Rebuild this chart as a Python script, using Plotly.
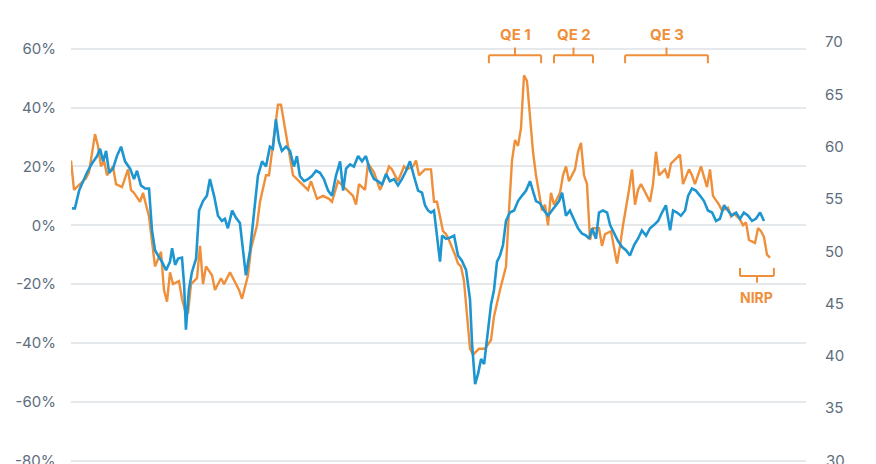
import plotly.graph_objects as go

# months since Jan 1997
orange_t = [0,1,3,5,6,8,9,10,11,12,14,15,17,19,20,21,23,24,26,27,28,30,31,32,33,34,36,37,38,39,40,42,43,44,45,47,48,50,51,53,55,56,57,59,60,62,63,65,66,67,68,69,70,72,73,74,76,77,79,80,82,84,86,87,89,90,92,94,95,96,98,99,101,102,103,105,106,107,109,111,112,114,115,116,118,120,121,122,124,125,126,128,129,130,131,133,134,136,137,138,140,141,143,145,146,147,148,149,150,151,152,153,154,155,157,158,159,160,161,163,164,165,166,168,169,170,171,172,173,174,176,177,178,180,181,182,183,184,186,187,188,189,190,192,193,194,195,196,198,199,200,202,203,204,206,207,208,210,211,212,213,214,216,217,219,220,221,223,224,225,226,228,229,230,231,232,233]
orange_v = [22,12,14,16,18,31,27,20,22,17,20,14,13,19,12,11,8,11,3,-5,-14,-9,-22,-26,-16,-20,-19,-25,-29,-30,-20,-18,-7,-20,-14,-17,-22,-18,-20,-16,-20,-22,-25,-17,-8,0,8,17,17,25,32,41,41,29,22,17,15,14,12,15,9,10,9,8,15,14,12,10,7,14,12,21,18,15,12,17,20,19,15,20,19,20,22,17,19,19,8,8,-2,-3,-5,-10,-13,-14,-19,-42,-44,-42,-42,-42,-39,-31,-22,-14,5,22,29,27,33,51,49,36,25,17,5,7,0,11,7,11,17,20,15,19,25,28,17,14,-5,-1,-1,-7,-3,-2,-7,-13,-7,0,12,19,7,12,14,10,8,14,25,17,19,16,21,23,24,14,19,17,14,20,16,13,19,10,7,5,6,3,4,2,0,1,-5,-6,-1,-2,-4,-10,-11]

blue_t = [0.3,1.3,2.7,4,5.3,7,8.7,9.7,10.7,11.7,12.7,14,15.3,16.7,18,19.7,21,22,23.3,24.7,26,27,28,29,30.3,31.7,33,33.7,34.7,35.7,37,37.7,38.3,39.3,40.3,41.7,42.7,44,45.3,46.3,47.7,49,50.3,51.3,52.3,53.7,55,56.3,57.7,58.3,59.7,61,62.3,63.7,65,66.3,67.3,68.3,69.3,70.3,71.7,73,74.3,75.3,76.3,77.7,79,80.3,81.7,83,84.3,85.7,87,88.3,89.7,90.7,91.7,93,94.3,95.7,97,98.3,99.7,101,102.3,103.7,105,106.3,107.7,109,110.3,111.7,113,114.3,115.7,117,118,119,120,121,122.3,123,123.7,125,126.3,127.7,129,130.3,131.7,133,133.7,134.7,135.7,136.7,137.7,138.7,140,141,142,143,144,145,146.3,147.7,149,150.3,151.7,153,154,155,156.3,157.7,159,160.3,161.7,162.7,163.7,165,166.3,167.7,169,170.3,171.7,172.7,173.7,175,176,177.3,178.7,179.7,181,182.3,183.7,185,186.3,187.7,189,190.3,191.7,193,194.3,195.7,197,198.3,199.7,200.7,202,203.3,204.7,205.7,207,208.3,209.7,211,212.3,213.7,215,216.3,217.7,219,220.3,221.7,223,224.3,225.7,227,228.3,229.7,231]
blue_v = [54.1,54.1,55.8,56.7,57.5,58.4,59.1,59.8,58.6,59.6,57.5,57.9,59.1,60.0,58.6,57.9,56.9,57.7,56.3,56.0,56.0,52.0,50.1,49.6,49.0,48.2,49.0,50.3,48.7,49.3,49.4,46.8,42.5,46.3,48.0,49.3,53.9,54.8,55.3,56.9,55.3,53.4,52.9,53.1,52.2,53.9,53.2,52.7,49.1,47.7,50.1,53.9,57.2,58.6,58.1,60.0,59.8,62.6,60.5,59.6,60.0,59.6,58.1,59.1,57.2,56.7,56.9,57.2,57.7,57.5,56.9,55.8,55.3,57.2,58.6,55.8,57.9,58.3,58.1,59.1,58.6,59.1,57.7,56.9,56.7,56.4,57.4,56.7,56.9,56.3,56.9,57.7,58.6,57.2,55.8,55.6,54.4,53.9,53.7,53.9,51.0,49.0,51.5,51.2,51.3,51.5,49.6,49.1,48.2,45.4,41.1,37.3,38.3,39.7,39.2,41.6,44.9,46.3,49.0,49.6,50.6,52.9,53.7,53.9,54.8,55.3,55.8,56.7,55.8,54.8,54.6,53.9,53.4,53.9,54.4,54.8,55.6,53.4,53.9,53.1,52.2,51.7,51.5,51.2,52.2,51.2,53.7,53.9,53.7,52.5,51.8,51.0,50.4,50.1,49.6,50.6,51.2,52.0,51.5,52.2,52.5,52.9,53.7,54.4,52.0,53.9,53.7,53.4,53.9,55.3,56.0,55.8,55.3,54.8,53.9,53.7,52.9,53.1,54.4,53.9,53.4,53.7,53.1,53.7,53.4,52.9,53.1,53.7,52.9]

left_ticks = [-80,-60,-40,-20,0,20,40,60]
right_ticks = [30,35,40,45,50,55,60,65,70]

brackets = [("QE 1", 139.3, 156.7), ("QE 2", 161, 174), ("QE 3", 184.7, 212.3)]
nirp = ("NIRP", 223, 234.3)

OR = "#EF8F3A"
BL = "#1D95D1"
TXT = "#5d6d7e"

fig = go.Figure()
fig.add_trace(go.Scatter(x=orange_t, y=orange_v, mode="lines", line=dict(color=OR, width=2.4), yaxis="y"))
fig.add_trace(go.Scatter(x=blue_t, y=blue_v, mode="lines", line=dict(color=BL, width=2.6), yaxis="y2"))

shapes = []
for name, a, b in brackets:
    m = (a + b) / 2
    for x0, y0, x1, y1 in [(a, 0.945, a, 0.964), (a, 0.964, b, 0.964), (b, 0.964, b, 0.945), (m, 0.964, m, 0.982)]:
        shapes.append(dict(type="line", xref="x", yref="paper", x0=x0, x1=x1, y0=y0, y1=y1, line=dict(color=OR, width=2)))
    fig.add_annotation(x=m, y=1.012, xref="x", yref="paper", text="<b>%s</b>" % name, showarrow=False,
                       font=dict(color=OR, size=15, family="Inter"), yanchor="middle")
name, a, b = nirp
m = (a + b) / 2
for x0, y0, x1, y1 in [(a, 0.46, a, 0.441), (a, 0.441, b, 0.441), (b, 0.441, b, 0.46), (m, 0.441, m, 0.425)]:
    shapes.append(dict(type="line", xref="x", yref="paper", x0=x0, x1=x1, y0=y0, y1=y1, line=dict(color=OR, width=2)))
fig.add_annotation(x=m, y=0.389, xref="x", yref="paper", text="<b>%s</b>" % name, showarrow=False,
                   font=dict(color=OR, size=14, family="Inter"), yanchor="middle")

# bottom tick labels that Plotly drops at the paper edge
fig.add_annotation(x=0, xref="paper", y=left_ticks[0], yref="y", text="%d%%" % left_ticks[0], showarrow=False,
                   xanchor="right", xshift=-14, yanchor="middle", font=dict(color=TXT, size=15))
fig.add_annotation(x=1, xref="paper", y=right_ticks[0], yref="y2", text="%d" % right_ticks[0], showarrow=False,
                   xanchor="left", xshift=18, yanchor="middle", font=dict(color=TXT, size=15))

fig.update_layout(
    width=876, height=464, margin=dict(l=71, r=70, t=40, b=2),
    paper_bgcolor="white", plot_bgcolor="white", showlegend=False, shapes=shapes,
    font=dict(family="Inter", color=TXT, size=15),
    xaxis=dict(range=[0, 245], showgrid=False, showticklabels=False, zeroline=False, automargin=False),
    yaxis=dict(range=[-80.5, 63], tickvals=left_ticks, ticktext=["%d%%" % v for v in left_ticks],
               gridcolor="#e6e9ec", gridwidth=1.5, zeroline=False, ticks="", ticklabelstandoff=14,
               automargin=False),
    yaxis2=dict(range=[29.85, 70.2], overlaying="y", side="right", tickvals=right_ticks,
                showgrid=False, zeroline=False, ticklabelstandoff=18, automargin=False),
)
fig.write_html("out.html", config={"displayModeBar": False},
               post_script="document.body.style.margin='0';document.body.style.overflow='hidden';")
